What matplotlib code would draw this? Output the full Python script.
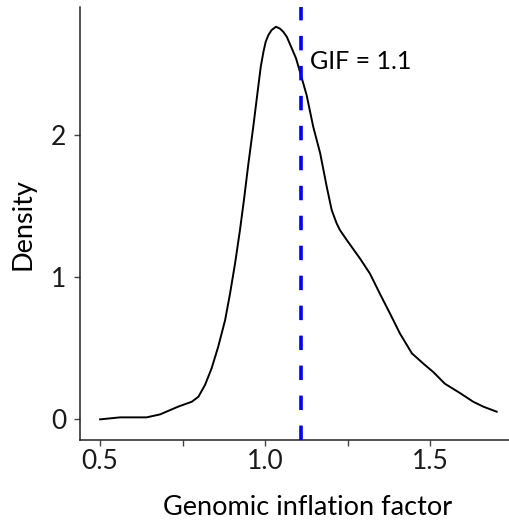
import matplotlib
matplotlib.use('Agg')
import matplotlib.pyplot as plt

# density curve
gif_x = [0.500, 0.561, 0.641, 0.682, 0.712, 0.732, 0.742, 0.778, 0.798, 0.818,
         0.838, 0.858, 0.879, 0.894, 0.909, 0.924, 0.936, 0.949, 0.965, 0.980,
         0.987, 0.995, 1.002, 1.010, 1.020, 1.033, 1.045, 1.055, 1.066, 1.081,
         1.094, 1.106, 1.126, 1.146, 1.167, 1.187, 1.202, 1.217, 1.227, 1.248,
         1.288, 1.318, 1.348, 1.379, 1.409, 1.445, 1.480, 1.510, 1.545, 1.591,
         1.631, 1.662, 1.702]
density = [0.000, 0.014, 0.014, 0.035, 0.065, 0.085, 0.094, 0.124, 0.159, 0.242,
           0.359, 0.511, 0.699, 0.887, 1.096, 1.333, 1.544, 1.791, 2.073, 2.354,
           2.483, 2.587, 2.659, 2.706, 2.742, 2.765, 2.752, 2.730, 2.694, 2.613,
           2.542, 2.446, 2.284, 2.061, 1.875, 1.638, 1.474, 1.380, 1.333, 1.262,
           1.132, 1.026, 0.885, 0.744, 0.604, 0.465, 0.392, 0.333, 0.251, 0.185,
           0.124, 0.089, 0.054]
gif_value = 1.109
gif_label = 'GIF = 1.1'

x_ticks = [0.5, 0.75, 1.0, 1.25, 1.5]
x_ticklabels = ['0.5', '', '1.0', '', '1.5']
y_ticks = [0, 1, 2]

plt.rcParams['font.family'] = ['Lato', 'DejaVu Sans']

fig = plt.figure(figsize=(5.1, 5.27), dpi=100)
ax = fig.add_axes([0.157, 0.166, 0.843, 0.8207])

ax.plot(gif_x, density, color='black', lw=1.4, solid_joinstyle='round')
ax.axvline(gif_value, color='#0000ff', lw=2.6, dashes=(4, 4.3))
ax.text(1.136, 2.52, gif_label, fontsize=18, va='center', ha='left')

ax.set_xlim(0.4394, 1.7424)
ax.set_ylim(-0.142, 2.904)
ax.set_xticks(x_ticks)
ax.set_xticklabels(x_ticklabels)
ax.set_yticks(y_ticks)

for s in ['top', 'right']:
    ax.spines[s].set_visible(False)
for s in ['left', 'bottom']:
    ax.spines[s].set_linewidth(1.1)
    ax.spines[s].set_color('#222222')
ax.tick_params(axis='both', length=4, width=1.0, color='#444444',
               labelsize=19, labelcolor='#1a1a1a')
ax.tick_params(axis='x', pad=3)
ax.tick_params(axis='y', pad=6)

ax.set_xlabel('Genomic inflation factor', fontsize=19.5, va='center')
ax.set_ylabel('Density', fontsize=19.5, va='center')
ax.xaxis.set_label_coords(0.530, -0.158)
ax.yaxis.set_label_coords(-0.1326, 0.498)

fig.savefig('out.png', dpi=100)
